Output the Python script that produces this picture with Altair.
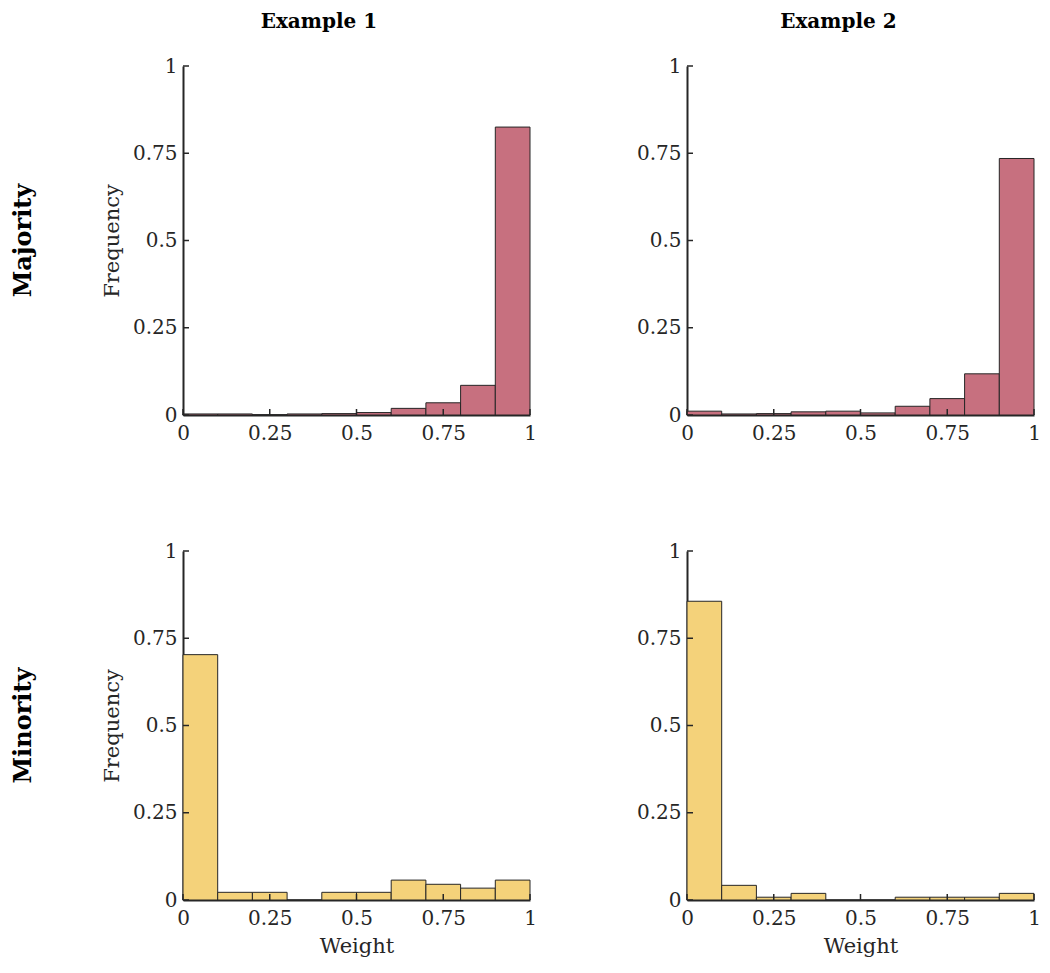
import altair as alt
import pandas as pd

# ---- data ----
bin_start = [0.0, 0.1, 0.2, 0.3, 0.4, 0.5, 0.6, 0.7, 0.8, 0.9]
bin_end = [0.1, 0.2, 0.3, 0.4, 0.5, 0.6, 0.7, 0.8, 0.9, 1.0]
majority_ex1 = [0.003, 0.003, 0.001, 0.003, 0.004, 0.007, 0.019, 0.035, 0.085, 0.825]
majority_ex2 = [0.011, 0.003, 0.004, 0.009, 0.011, 0.006, 0.025, 0.047, 0.118, 0.735]
minority_ex1 = [0.703, 0.022, 0.022, 0.0, 0.022, 0.022, 0.057, 0.045, 0.034, 0.057]
minority_ex2 = [0.856, 0.042, 0.008, 0.019, 0.0, 0.0, 0.008, 0.008, 0.008, 0.019]
tick_values = [0, 0.25, 0.5, 0.75, 1]
column_titles = ["Example 1", "Example 2"]
row_titles = ["Majority", "Minority"]

FONT = "DejaVu Serif"
AX = "#262626"
MAJ = "#C7707F"
MIN = "#F4D27A"
W = 347
H = 349
LW = 14


def axis_defs(xtitle, ytitle):
    common = dict(values=tick_values, format=".2~f", ticks=False, grid=False,
                  domainColor=AX, domainWidth=2, labelFont=FONT, labelFontSize=20,
                  labelColor=AX, labelFlush=False, titleFont=FONT, titleFontSize=21,
                  titleFontWeight="normal", titleColor=AX)
    xa = dict(common, labelPadding=8, titlePadding=7)
    ya = dict(common, labelPadding=6, titlePadding=10)
    xa["title"] = xtitle if xtitle else ""
    ya["title"] = ytitle if ytitle else ""
    return alt.Axis(**xa), alt.Axis(**ya)


def panel(vals, color, ytitle, xtitle, title):
    df = pd.DataFrame({"start": bin_start, "end": bin_end, "freq": vals})
    xs = alt.Scale(domain=[0, 1], nice=False, zero=False)
    ys = alt.Scale(domain=[0, 1], nice=False)
    xaxis, yaxis = axis_defs(xtitle, ytitle)
    bars = alt.Chart(df).mark_bar(fill=color, stroke=AX, strokeWidth=1, opacity=1).encode(
        x=alt.X("start:Q", scale=xs, axis=xaxis),
        x2="end:Q",
        y=alt.Y("freq:Q", scale=ys, axis=yaxis),
        y2=alt.datum(0),
    )
    tdf = pd.DataFrame({"v": tick_values})
    yt = alt.Chart(tdf).mark_rule(color=AX, strokeWidth=1.5).encode(
        y=alt.Y("v:Q", scale=ys, axis=yaxis), x=alt.value(0), x2=alt.value(6))
    xt = alt.Chart(tdf).mark_rule(color=AX, strokeWidth=1.5).encode(
        x=alt.X("v:Q", scale=xs, axis=xaxis), y=alt.value(H), y2=alt.value(H - 6))
    ch = alt.layer(bars, yt, xt).properties(width=W, height=H)
    if title:
        ch = ch.properties(title=alt.Title(title, font=FONT, fontSize=20, fontWeight="bold",
                                           color="black", anchor="middle", frame="bounds",
                                           offset=24))
    return ch


def row_label(text):
    df = pd.DataFrame({"row": [text]})
    return alt.Chart(df).mark_text(angle=270, font=FONT, fontSize=24, fontWeight="bold",
                                   color="black").encode(
        text="row:N", y=alt.Y("row:N", axis=None), x=alt.value(12)
    ).properties(width=LW, height=H)


chart = alt.concat(
    row_label(row_titles[0]),
    panel(majority_ex1, MAJ, "Frequency", None, column_titles[0]),
    panel(majority_ex2, MAJ, None, None, column_titles[1]),
    row_label(row_titles[1]),
    panel(minority_ex1, MIN, "Frequency", "Weight", None),
    panel(minority_ex2, MIN, None, "Weight", None),
    columns=3,
    spacing={"row": 136, "column": 157},
    bounds="flush",
    align="each",
).properties(
    padding={"left": 4, "top": 4, "right": 0, "bottom": 2}, background="white"
).configure_view(stroke=None)

chart.save("out.html", embed_options={"renderer": "svg", "actions": False})
